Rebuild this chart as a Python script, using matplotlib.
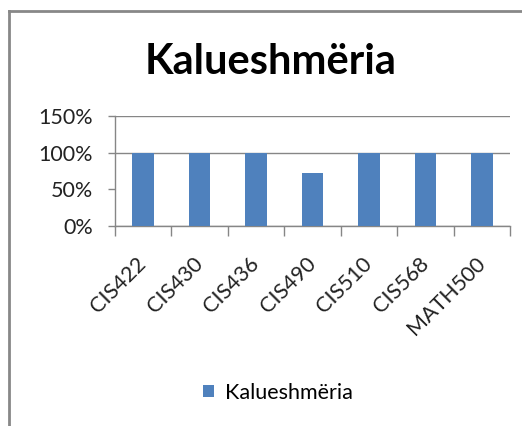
import matplotlib
matplotlib.use('Agg')
import matplotlib.pyplot as plt
from matplotlib.lines import Line2D
import numpy as np

plt.rcParams['font.family'] = ['Lato', 'DejaVu Sans']

courses = ['CIS422', 'CIS430', 'CIS436', 'CIS490', 'CIS510', 'CIS568', 'MATH500']
pass_rate = [1.0, 1.0, 1.0, 0.72, 1.0, 1.0, 1.0]
yticks = [0, 0.5, 1.0, 1.5]
ytick_labels = ['0%', '50%', '100%', '150%']
series_name = 'Kalueshmëria'

W, H = 522, 426
fig = plt.figure(figsize=(W / 100, H / 100), dpi=100)
ax = fig.add_axes([115 / W, 1 - 226 / H, (510 - 115) / W, (226 - 116) / H])

x = np.arange(len(courses))
ax.bar(x, pass_rate, width=0.38, color='#4F81BD', label=series_name, zorder=3)

ax.set_xlim(-0.5, len(courses) - 0.5)
ax.set_ylim(0, 1.5)
ax.set_yticks(yticks)
ax.set_yticklabels(ytick_labels, fontsize=15.5, color='#222222')
ax.tick_params(axis='y', length=5, color='#868686', width=1, pad=11)

# category ticks sit at the boundaries, labels at the centres
ax.set_xticks(np.arange(len(courses) + 1) - 0.5)
ax.set_xticklabels([])
ax.set_xticks(x, minor=True)
ax.set_xticklabels(courses, minor=True, rotation=45, ha='right', va='center',
                   rotation_mode='anchor', fontsize=15.5, color='#222222')
ax.tick_params(axis='x', which='major', length=7, color='#868686', width=1)
ax.tick_params(axis='x', which='minor', length=0, pad=25)

ax.yaxis.grid(True, color='#868686', linewidth=1, zorder=0)
ax.get_ygridlines()[1].set_visible(False)
for s in ['top', 'right']:
    ax.spines[s].set_visible(False)
for s in ['left', 'bottom']:
    ax.spines[s].set_color('#868686')
    ax.spines[s].set_linewidth(1)

fig.text(271 / W, 1 - 74 / H, series_name, ha='center', va='baseline',
         fontsize=30, fontweight='bold', color='black')

fig.legend(loc='center', bbox_to_anchor=(278 / W, 1 - 393 / H), frameon=False,
           fontsize=15.5, handlelength=0.5, handleheight=0.5, handletextpad=0.5)

# outer chart frame (only top and left edges visible)
fig.add_artist(Line2D([8.5 / W, 1], [1 - 11 / H, 1 - 11 / H], color='#888888', lw=2,
                      transform=fig.transFigure))
fig.add_artist(Line2D([8.5 / W, 8.5 / W], [0, 1 - 11 / H], color='#888888', lw=2,
                      transform=fig.transFigure))

fig.savefig('out.png', dpi=100, facecolor='white')
